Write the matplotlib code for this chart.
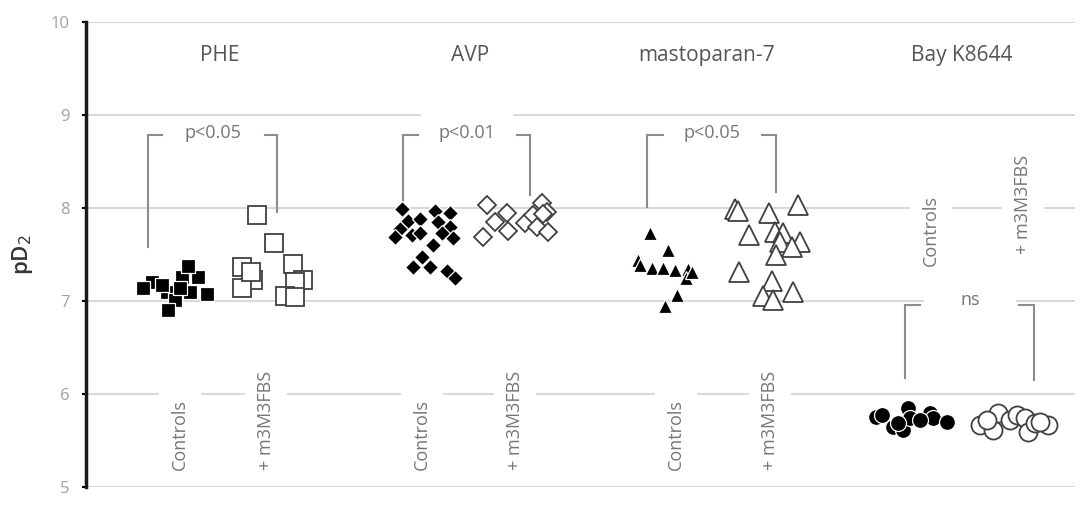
import numpy as np
import matplotlib
matplotlib.use("Agg")
import matplotlib.pyplot as plt

plt.rcParams['font.family'] = ['Open Sans', 'DejaVu Sans']

# Panels (agonists) and group labels
agonistas = ["PHE", "AVP", "mastoparan-7", "Bay K8644"]
grupos = ["Controls", "+ m3M3FBS"]
significancia = ["p<0.05", "p<0.01", "p<0.05", "ns"]

# pD2 values, with horizontal jitter (x positions of the cloud)
phe_ctrl_x = [152, 182, 198, 188, 167, 175, 190, 207, 168, 143, 162, 180]
phe_ctrl_y = [7.20, 7.26, 7.26, 7.38, 7.10, 7.01, 7.10, 7.07, 6.90, 7.14, 7.17, 7.14]
phe_m3_x = [257, 274, 242, 293, 253, 242, 303, 295, 285, 295, 251]
phe_m3_y = [7.925, 7.62, 7.37, 7.40, 7.23, 7.14, 7.23, 7.20, 7.05, 7.04, 7.31]

avp_ctrl_x = [402, 435, 450, 408, 420, 400, 438, 450, 412, 453, 442, 433, 422, 413, 430, 447, 455, 395, 420]
avp_ctrl_y = [7.99, 7.97, 7.95, 7.86, 7.88, 7.77, 7.85, 7.80, 7.71, 7.68, 7.73, 7.60, 7.47, 7.37, 7.37, 7.32, 7.25, 7.69, 7.73]
avp_m3_x = [487, 507, 495, 483, 508, 525, 533, 542, 547, 537, 548, 543]
avp_m3_y = [8.03, 7.95, 7.85, 7.69, 7.75, 7.84, 7.93, 8.05, 7.96, 7.80, 7.74, 7.94]

mas_ctrl_x = [650, 668, 638, 640, 652, 663, 675, 688, 686, 677, 665, 692]
mas_ctrl_y = [7.73, 7.55, 7.44, 7.39, 7.35, 7.35, 7.33, 7.34, 7.25, 7.06, 6.95, 7.31]
mas_m3_x = [735, 738, 769, 798, 749, 775, 783, 780, 800, 792, 776, 739, 772, 793, 763, 773]
mas_m3_y = [7.99, 7.97, 7.95, 8.03, 7.71, 7.74, 7.73, 7.63, 7.63, 7.58, 7.50, 7.31, 7.22, 7.10, 7.05, 7.01]

bay_ctrl_x = [876, 882, 893, 903, 908, 910, 930, 933, 947, 898, 920]
bay_ctrl_y = [5.75, 5.77, 5.65, 5.61, 5.85, 5.74, 5.80, 5.74, 5.70, 5.69, 5.72]
bay_m3_x = [980, 993, 998, 1010, 1017, 1025, 1028, 1035, 1048, 987, 1040]
bay_m3_y = [5.67, 5.61, 5.80, 5.72, 5.77, 5.74, 5.59, 5.69, 5.67, 5.72, 5.70]

gris_txt = '#767676'
gris_lin = '#8c8c8c'

fig = plt.figure(figsize=(10.87, 5.07), dpi=100)
ax = fig.add_axes([86/1087, 20/507, 989/1087, 465/507])
ax.set_xlim(86, 1075)
ax.set_ylim(5, 10)

# grilla horizontal
for yv in range(5, 11):
    ax.axhline(yv, color='#d9d9d9', lw=1.5, zorder=0)

for s in ['top', 'right', 'bottom']:
    ax.spines[s].set_visible(False)
ax.spines['left'].set_linewidth(2.5)
ax.spines['left'].set_color('#1a1a1a')
ax.set_xticks([])
ax.set_yticks(range(5, 11))
ax.tick_params(axis='y', direction='out', length=3, width=1.5, pad=9,
               labelsize=12, labelcolor='#a0a0a0')
ax.set_ylabel("pD$_2$", fontsize=16, color='#333333', fontweight='semibold')
ax.yaxis.set_label_coords(-0.052, 0.5)

# puntos
lleno = dict(linestyle='none', markerfacecolor='black', markeredgecolor='white', markeredgewidth=0.9, zorder=3)
vacio = dict(linestyle='none', markerfacecolor='white', markeredgecolor='#404040', markeredgewidth=1.3, zorder=3)

ax.plot(phe_ctrl_x, phe_ctrl_y, marker='s', markersize=10.5, **lleno)
ax.plot(phe_m3_x, phe_m3_y, marker='s', markersize=12.5, **vacio)
ax.plot(avp_ctrl_x, avp_ctrl_y, marker='D', markersize=7.8, **lleno)
ax.plot(avp_m3_x, avp_m3_y, marker='D', markersize=9, **vacio)
ax.plot(mas_ctrl_x, mas_ctrl_y, marker='^', markersize=10, **lleno)
ax.plot(mas_m3_x, mas_m3_y, marker='^', markersize=14, **vacio)
ax.plot(bay_ctrl_x, bay_ctrl_y, marker='o', markersize=11.5, **lleno)
ax.plot(bay_m3_x, bay_m3_y, marker='o', markersize=13, **vacio)

# titulos de cada panel
titulo_x = [220, 470, 707, 962]
for tx, nombre in zip(titulo_x, agonistas):
    ax.text(tx, 9.645, nombre, ha='center', va='center', fontsize=15, color='#555555')

# etiquetas de grupos (rotadas, con fondo blanco que corta la grilla)
caja = dict(facecolor='white', edgecolor='none', pad=9)
etq_x = [(180, 266), (422, 515), (676, 770)]
for xc, xm in etq_x:
    ax.text(xc, 5.18, grupos[0], rotation=90, ha='center', va='bottom', fontsize=13,
            color=gris_txt, bbox=caja, zorder=2)
    ax.text(xm, 5.18, grupos[1], rotation=90, ha='center', va='bottom', fontsize=13,
            color=gris_txt, bbox=caja, zorder=2)
ax.text(931, 7.76, grupos[0], rotation=90, ha='center', va='center', fontsize=13,
        color=gris_txt, bbox=caja, zorder=2)
ax.text(1023, 8.04, grupos[1], rotation=90, ha='center', va='center', fontsize=13,
        color=gris_txt, bbox=caja, zorder=2)

# corchetes de significancia: (x izq, x der, y base izq, y base der, y tope, hueco izq, hueco der, x texto)
corchetes = [
    (148, 277, 7.58, 7.96, 8.785, 162, 265, 213),
    (403, 530, 8.03, 8.14, 8.785, 418, 517, 467),
    (647, 776, 8.01, 8.17, 8.785, 663, 762, 712),
    (905, 1034, 6.17, 6.15, 6.957, 920, 1019, 970),
]
for (xi, xd, yi, yd, yt, hi, hd, xt), txt in zip(corchetes, significancia):
    ax.plot([xi, xi, hi], [yi, yt, yt], color=gris_lin, lw=1.5, zorder=2, solid_joinstyle='miter')
    ax.plot([hd, xd, xd], [yt, yt, yd], color=gris_lin, lw=1.5, zorder=2, solid_joinstyle='miter')
    if txt == 'p<0.01':
        ax.text(xt, yt + 0.02, txt, ha='center', va='center', fontsize=13, color=gris_txt,
                bbox=dict(facecolor='white', edgecolor='none', pad=13), zorder=1)
    elif txt == 'ns':
        ax.text(xt, yt + 0.05, txt, ha='center', va='center', fontsize=13, color=gris_txt,
                bbox=dict(facecolor='white', edgecolor='none', pad=26), zorder=1)
    else:
        ax.text(xt, yt + 0.02, txt, ha='center', va='center', fontsize=13, color=gris_txt, zorder=2)

fig.savefig("out.png", dpi=100)
